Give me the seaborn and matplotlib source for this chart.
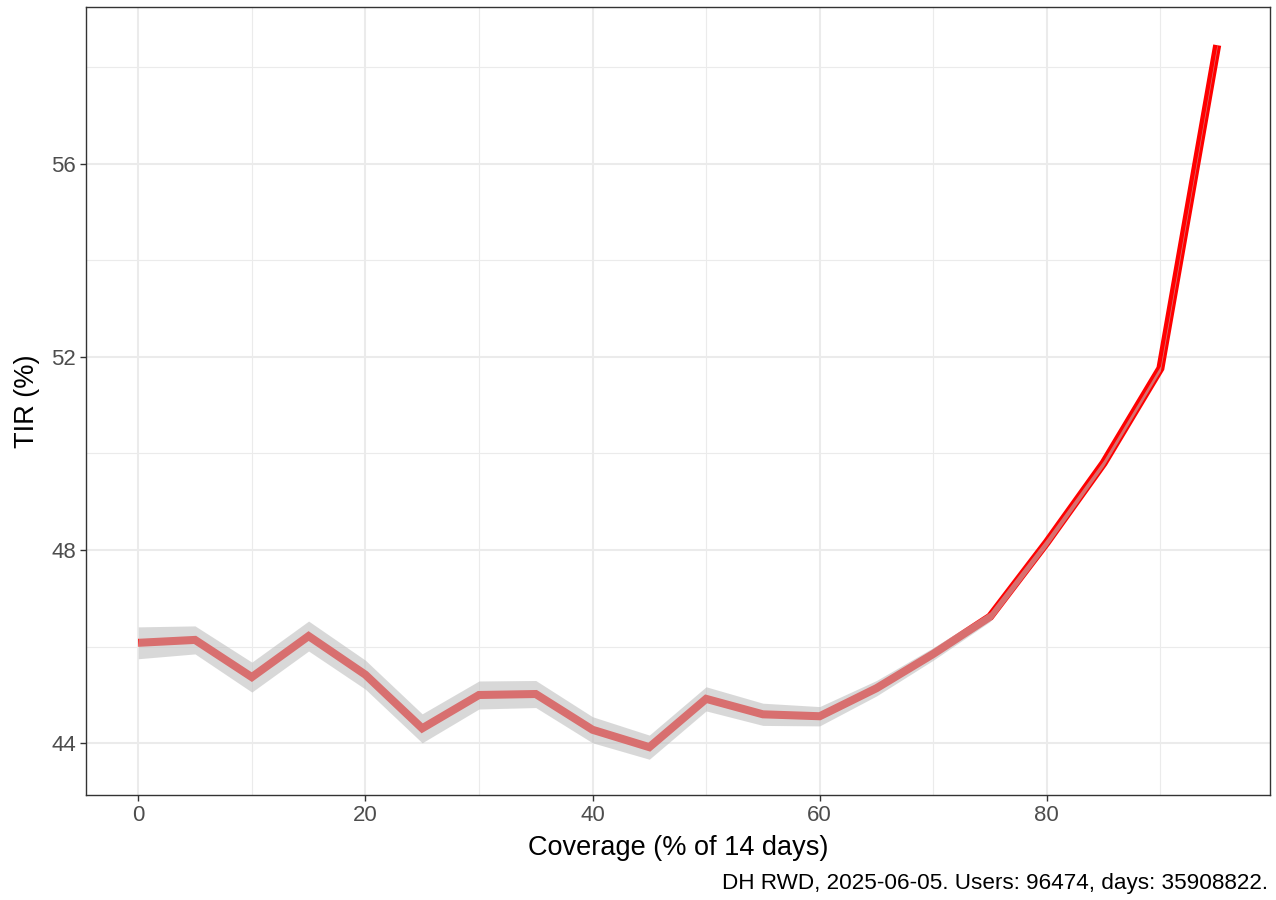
import numpy as np
import pandas as pd
import matplotlib
matplotlib.use("Agg")
import matplotlib.pyplot as plt
import seaborn as sns

coverage = [0, 5, 10, 15, 20, 25, 30, 35, 40, 45, 50, 55, 60, 65, 70, 75, 80, 85, 90, 95]
tir = [46.08, 46.14, 45.37, 46.22, 45.42, 44.31, 45.00, 45.02, 44.28, 43.92,
       44.92, 44.60, 44.56, 45.14, 45.85, 46.62, 48.16, 49.80, 51.76, 58.45]
ci_half = [0.33, 0.29, 0.31, 0.31, 0.30, 0.30, 0.29, 0.28, 0.27, 0.25,
           0.25, 0.23, 0.20, 0.16, 0.13, 0.10, 0.08, 0.06, 0.05, 0.04]

x_ticks = [0, 20, 40, 60, 80]
y_ticks = [44, 48, 52, 56]
x_label = "Coverage (% of 14 days)"
y_label = "TIR (%)"
caption = "DH RWD, 2025-06-05. Users: 96474, days: 35908822."

df = pd.DataFrame({"coverage": coverage, "tir": tir, "ci": ci_half})
df["lo"] = df["tir"] - df["ci"]
df["hi"] = df["tir"] + df["ci"]

sns.set_style("white")
plt.rcParams["font.family"] = ["Liberation Sans", "DejaVu Sans"]

W, H = 1276, 900
fig = plt.figure(figsize=(W / 100, H / 100), dpi=100)
l, r, t, b = 86, 1270, 7, 795
ax = fig.add_axes([l / W, 1 - b / H, (r - l) / W, (b - t) / H])

sns.lineplot(data=df, x="coverage", y="tir", color="red", linewidth=5.8,
             ax=ax, zorder=3, solid_capstyle="butt", solid_joinstyle="miter")
ax.fill_between(df["coverage"], df["lo"], df["hi"], color="#BEBEBE",
                alpha=0.59, linewidth=0, zorder=4)

ax.set_xlim(-4.6, 99.65)
ax.set_ylim(42.93, 59.24)
ax.set_xticks(x_ticks)
ax.set_yticks(y_ticks)
ax.set_xticks([10, 30, 50, 70, 90], minor=True)
ax.set_yticks([46, 50, 54, 58], minor=True)
ax.grid(True, which="major", color="#EBEBEB", linewidth=1.5, zorder=0)
ax.grid(True, which="minor", color="#EBEBEB", linewidth=0.8, zorder=0)
ax.set_axisbelow(True)

for s in ax.spines.values():
    s.set_color("#333333")
    s.set_linewidth(1.0)

ax.tick_params(axis="both", which="major", direction="out", length=4, width=1,
               color="#333333", labelcolor="#4D4D4D", labelsize=16, pad=3,
               bottom=True, left=True)
ax.tick_params(axis="both", which="minor", length=0)

ax.set_xlabel("")
ax.set_ylabel("")
fig.text((l + r) / 2 / W, 1 - 848 / H, x_label, ha="center", va="center",
         fontsize=19.5, color="black")
fig.text(27 / W, 1 - (t + b) / 2 / H, y_label, ha="center", va="center",
         rotation=90, fontsize=19.5, color="black")

fig.text(1268 / W, 1 - 884 / H, caption, ha="right", va="center",
         fontsize=16.2, color="black")

fig.savefig("out.png", dpi=100)
